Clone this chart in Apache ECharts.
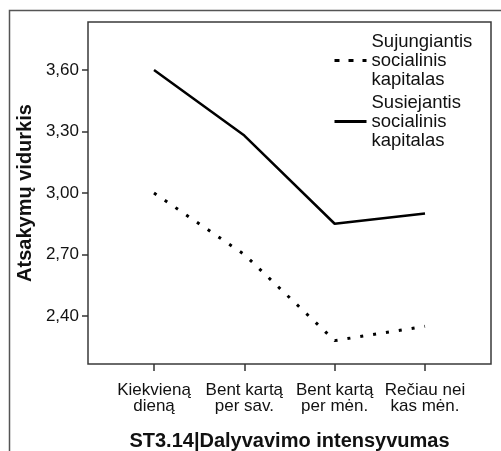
<!DOCTYPE html>
<html>
<head>
<meta charset="utf-8">
<script src="https://cdn.jsdelivr.net/npm/echarts@6/dist/echarts.min.js"></script>
<style>
  html, body { margin: 0; padding: 0; background: #fff; }
  #chart { width: 501px; height: 451px; }
</style>
</head>
<body>
<div id="chart"></div>
<script>
// kategorijos (x ašis)
const categories = ["Kiekvieną\ndieną", "Bent kartą\nper sav.", "Bent kartą\nper mėn.", "Rečiau nei\nkas mėn."];
// vidurkiai
const sujungiantis = [3.0, 2.7, 2.28, 2.35];
const susiejantis = [3.6, 3.28, 2.85, 2.9];
// y ašies žymės
const yTicks = [2.4, 2.7, 3.0, 3.3, 3.6];

const font = "Liberation Sans, Arial, sans-serif";
const chart = echarts.init(document.getElementById("chart"));

chart.setOption({
  backgroundColor: "#fff",
  animation: false,
  grid: {
    left: 88,
    top: 22,
    width: 403,
    height: 342,
    outerBoundsMode: "none",
    show: true,
    borderColor: "#3a3a3a",
    borderWidth: 1.5,
  },
  legend: {
    orient: "vertical",
    left: 328,
    top: 27,
    itemWidth: 32,
    itemHeight: 12,
    itemGap: 4,
    itemStyle: { opacity: 0 },
    textStyle: { fontFamily: font, fontSize: 18.5, lineHeight: 19, color: "#111" },
    data: [
      { name: "Sujungiantis\nsocialinis\nkapitalas", lineStyle: { width: 3, type: [5, 9] } },
      { name: "Susiejantis\nsocialinis\nkapitalas", lineStyle: { width: 3 } },
    ],
  },
  xAxis: {
    type: "value",
    min: -0.7307,
    max: 3.7307,
    splitLine: { show: false },
    axisLine: { show: false, onZero: false },
    axisTick: { show: true, length: 7, customValues: [0, 1, 2, 3], lineStyle: { color: "#333", width: 1.5 } },
    axisLabel: {
      customValues: [0, 1, 2, 3],
      formatter: (v) => categories[Math.round(v)],
      fontFamily: font,
      fontSize: 17,
      lineHeight: 16,
      color: "#111",
      margin: 18,
    },
    name: "ST3.14|Dalyvavimo intensyvumas",
    nameLocation: "middle",
    nameGap: 67,
    nameTextStyle: { fontFamily: font, fontSize: 20, fontWeight: "bold", color: "#111" },
  },
  yAxis: {
    type: "value",
    min: 2.166,
    max: 3.834,
    splitLine: { show: false },
    axisLine: { show: false, onZero: false },
    axisTick: { show: true, length: 6, customValues: yTicks, lineStyle: { color: "#333", width: 1.5 } },
    axisLabel: {
      customValues: yTicks,
      formatter: (v) => v.toFixed(2).replace(".", ","),
      fontFamily: font,
      fontSize: 17,
      color: "#111",
      margin: 9,
    },
    name: "Atsakymų vidurkis",
    nameLocation: "middle",
    nameGap: 47,
    nameTextStyle: { fontFamily: font, fontSize: 20, fontWeight: "bold", color: "#111" },
  },
  series: [
    {
      name: "Sujungiantis\nsocialinis\nkapitalas",
      type: "line",
      symbol: "none",
      data: sujungiantis.map((v, i) => [i, v]),
      lineStyle: { color: "#000", width: 3, type: [3, 10] },
      itemStyle: { color: "#000" },
    },
    {
      name: "Susiejantis\nsocialinis\nkapitalas",
      type: "line",
      symbol: "none",
      data: susiejantis.map((v, i) => [i, v]),
      lineStyle: { color: "#000", width: 2.5 },
      itemStyle: { color: "#000" },
    },
  ],
  graphic: [
    {
      type: "polyline",
      shape: { points: [[9.5, 451], [9.5, 10.5], [501, 10.5]] },
      style: { stroke: "#555", lineWidth: 1.5, fill: null },
      silent: true,
    },
  ],
});
</script>
</body>
</html>
